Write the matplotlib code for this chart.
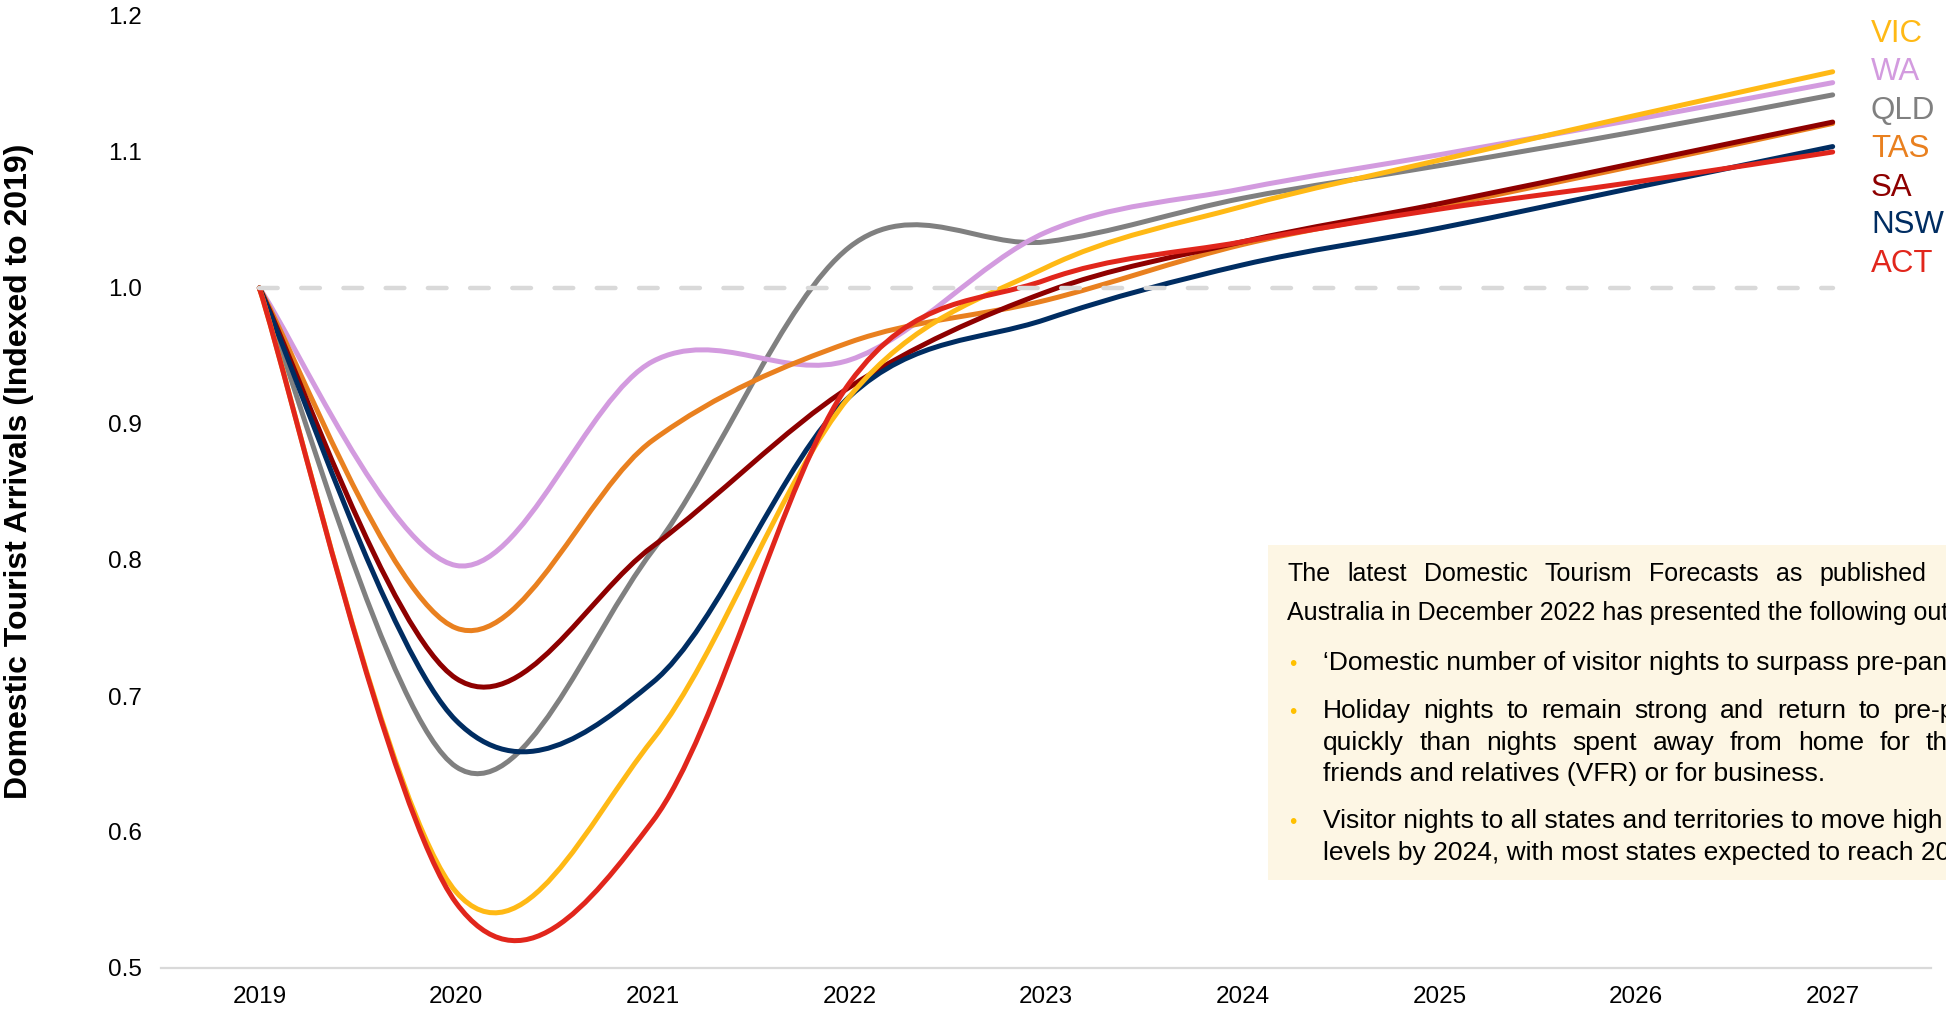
import matplotlib
matplotlib.use("Agg")
import matplotlib.pyplot as plt
from matplotlib.path import Path
from matplotlib.patches import PathPatch, Rectangle

plt.rcParams['font.family'] = ['Liberation Sans', 'DejaVu Sans']

### values (index, 2019 = 1.0)
years = [2019, 2020, 2021, 2022, 2023, 2024, 2025, 2026, 2027]
vic = [1.0, 0.556, 0.668, 0.920, 1.015, 1.060, 1.094, 1.127, 1.159]
wa = [1.0, 0.796, 0.946, 0.947, 1.041, 1.073, 1.098, 1.124, 1.151]
qld = [1.0, 0.648, 0.807, 1.030, 1.034, 1.066, 1.090, 1.115, 1.142]
tas = [1.0, 0.750, 0.888, 0.960, 0.991, 1.032, 1.060, 1.090, 1.121]
sa = [1.0, 0.713, 0.810, 0.927, 0.997, 1.034, 1.062, 1.092, 1.122]
nsw = [1.0, 0.682, 0.710, 0.920, 0.977, 1.017, 1.044, 1.074, 1.104]
act = [1.0, 0.548, 0.608, 0.930, 1.006, 1.034, 1.058, 1.078, 1.100]

states = ["VIC", "WA", "QLD", "TAS", "SA", "NSW", "ACT"]
colours = {"VIC": "#FFB915", "WA": "#D39BDF", "QLD": "#808080", "TAS": "#E9801F",
           "SA": "#8E0000", "NSW": "#002D62", "ACT": "#E1261C"}
values = {"VIC": vic, "WA": wa, "QLD": qld, "TAS": tas, "SA": sa, "NSW": nsw, "ACT": act}
draw_order = ["QLD", "WA", "TAS", "SA", "NSW", "VIC", "ACT"]

# the box runs past the right edge of the picture, only the visible part is kept
intro = ["The latest Domestic Tourism Forecasts as published",
         "Australia in December 2022 has presented the following out"]
bullets = [["\u2018Domestic number of visitor nights to surpass pre-pan"],
           ["Holiday nights to remain strong and return to pre-p",
            "quickly than nights spent away from home for th",
            "friends and relatives (VFR) or for business."],
           ["Visitor nights to all states and territories to move high",
            "levels by 2024, with most states expected to reach 20"]]


def smooth_path(xs, ys):
    # excel style smoothed line: catmull-rom as cubic bezier segments
    n = len(xs)
    verts = [(xs[0], ys[0])]
    codes = [Path.MOVETO]
    for i in range(n - 1):
        a = max(i - 1, 0)
        b = min(i + 2, n - 1)
        c1 = (xs[i] + (xs[i + 1] - xs[a]) / 6.0, ys[i] + (ys[i + 1] - ys[a]) / 6.0)
        c2 = (xs[i + 1] - (xs[b] - xs[i]) / 6.0, ys[i + 1] - (ys[b] - ys[i]) / 6.0)
        verts += [c1, c2, (xs[i + 1], ys[i + 1])]
        codes += [Path.CURVE4] * 3
    return Path(verts, codes)


W, H = 1946, 1009
fx = lambda px: px / W
fy = lambda py: 1 - py / H

fig = plt.figure(figsize=(19.46, 10.09), dpi=100)
ax = fig.add_axes([fx(161), fy(968), fx(1931 - 161), (968 - 16) / H])

for s in draw_order:
    p = PathPatch(smooth_path(years, values[s]), fill=False, edgecolor=colours[s],
                  lw=3.6, capstyle='round', joinstyle='round', zorder=3)
    ax.add_patch(p)

# baseline 2019 = 1.0
ax.plot([years[0], years[-1]], [1.0, 1.0], color="#D9D9D9", lw=3.2,
        dashes=(4.2, 5.3), dash_capstyle='round', zorder=5)

ax.set_xlim(2018.5, 2027.5)
ax.set_ylim(0.5, 1.2)
ax.set_xticks(years)
ax.set_yticks([0.5, 0.6, 0.7, 0.8, 0.9, 1.0, 1.1, 1.2])
ax.set_yticklabels(["0.5", "0.6", "0.7", "0.8", "0.9", "1.0", "1.1", "1.2"])
ax.tick_params(axis='x', length=0, pad=13, labelsize=17.5)
ax.tick_params(axis='y', length=0, pad=14, labelsize=17.5)
for sp in ["top", "right", "left"]:
    ax.spines[sp].set_visible(False)
ax.spines["bottom"].set_color("#D9D9D9")
ax.spines["bottom"].set_linewidth(1.6)

fig.text(fx(19), fy(471), "Domestic Tourist Arrivals (Indexed to 2019)", rotation=90,
         fontsize=23, fontweight='bold', ha='center', va='center')

# state labels on the right
label_y = [34, 72.5, 111, 149, 188, 225, 264]
for s, py in zip(states, label_y):
    fig.text(fx(1871), fy(py), s, color=colours[s], fontsize=22.5, ha='left', va='center')

# commentary box
fig.patches.append(Rectangle((fx(1268), fy(880)), fx(W - 1268) + 0.01, (880 - 545) / H,
                             transform=fig.transFigure, facecolor="#FDF6E4",
                             edgecolor='none', zorder=0))

renderer = fig.canvas.get_renderer()


def put_line(text, px, py, size, gap=None):
    # gap (pixels) between words for justified lines
    if gap is None:
        fig.text(fx(px), fy(py), text, fontsize=size, ha='left', va='baseline')
        return
    x = px
    for w in text.split(" "):
        t = fig.text(fx(x), fy(py), w, fontsize=size, ha='left', va='baseline')
        x += t.get_window_extent(renderer).width + gap


put_line(intro[0], 1287, 581, 18, gap=17)
put_line(intro[1], 1287, 620, 18)

bullet_rows = [[670], [718, 750, 781], [828, 860]]
gaps = [[None], [12.5, 15.5, None], [None, None]]
for lines, rows, gp in zip(bullets, bullet_rows, gaps):
    fig.text(fx(1293), fy(rows[0]), "\u2022", color="#FFC000", fontsize=15,
             ha='center', va='baseline')
    for line, py, g in zip(lines, rows, gp):
        put_line(line, 1323, py, 19, gap=g)

fig.savefig("out.png", dpi=100)
